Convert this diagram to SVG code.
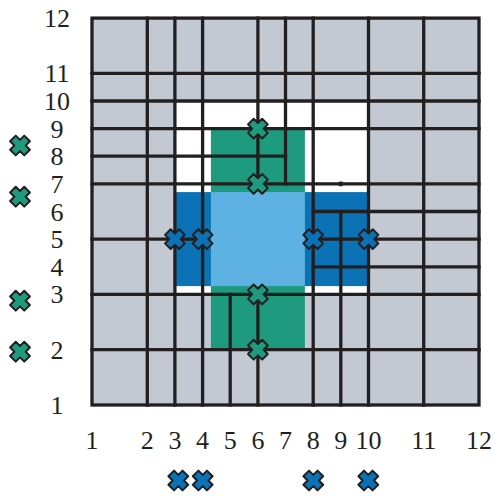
<svg xmlns="http://www.w3.org/2000/svg" xmlns:xlink="http://www.w3.org/1999/xlink" width="495" height="496" viewBox="0 0 495 496">
<style>
.ln{stroke:#231f20;stroke-width:3.3;fill:none;stroke-linecap:square}
.lbl{font-family:"Liberation Serif","DejaVu Serif",serif;font-size:26px;fill:#231f20;text-anchor:middle}
.mk{stroke:#231f20;stroke-width:2;stroke-linejoin:round}
</style>
<defs>
<polygon id="cross" points="-4,-10 4,-10 4,-4 10,-4 10,4 4,4 4,10 -4,10 -4,4 -10,4 -10,-4 -4,-4" transform="rotate(45)"/>
<g id="mg"><use xlink:href="#cross" href="#cross" class="mk" fill="#1e9b7f"/></g>
<g id="mb"><use xlink:href="#cross" href="#cross" class="mk" fill="#0a72b5"/></g>
</defs>
<rect width="495" height="496" fill="#ffffff"/>
<g id="regions">
<rect x="92" y="18.1" width="387" height="386.9" fill="#c2c9d2"/>
<rect x="174.9" y="101" width="193.6" height="193.4" fill="#ffffff"/>
<rect x="174.9" y="192.1" width="193.6" height="94" fill="#0a72b5"/>
<rect x="210.9" y="128.6" width="94" height="221.1" fill="#1e9b7f"/>
<rect x="210.9" y="192.1" width="94" height="94" fill="#5eb2e3"/>
</g>
<g id="connectors" class="ln">
<rect x="92" y="18.1" width="387" height="386.9"/>
<line x1="92" y1="73.4" x2="479" y2="73.4"/>
<line x1="92" y1="101" x2="479" y2="101"/>
<line x1="92" y1="128.6" x2="479" y2="128.6"/>
<line x1="92" y1="156.2" x2="285.5" y2="156.2"/>
<line x1="92" y1="183.9" x2="479" y2="183.9"/>
<line x1="313.2" y1="211.5" x2="479" y2="211.5"/>
<line x1="92" y1="239.1" x2="202.6" y2="239.1"/>
<line x1="313.2" y1="239.1" x2="479" y2="239.1"/>
<line x1="313.2" y1="266.8" x2="479" y2="266.8"/>
<line x1="92" y1="294.4" x2="479" y2="294.4"/>
<line x1="92" y1="349.7" x2="479" y2="349.7"/>
<line x1="147.3" y1="18.1" x2="147.3" y2="405"/>
<line x1="174.9" y1="18.1" x2="174.9" y2="405"/>
<line x1="202.6" y1="18.1" x2="202.6" y2="405"/>
<line x1="230.2" y1="294.4" x2="230.2" y2="405"/>
<line x1="257.9" y1="18.1" x2="257.9" y2="183.9"/>
<line x1="257.9" y1="294.4" x2="257.9" y2="405"/>
<line x1="285.5" y1="18.1" x2="285.5" y2="183.9"/>
<line x1="313.2" y1="18.1" x2="313.2" y2="405"/>
<line x1="340.8" y1="211.5" x2="340.8" y2="405"/>
<line x1="368.5" y1="18.1" x2="368.5" y2="405"/>
<line x1="423.7" y1="18.1" x2="423.7" y2="405"/>
<rect x="338.8" y="181.6" width="4" height="4.6" fill="#231f20" stroke="none"/>
</g>
<g id="grid-markers">
<use xlink:href="#mg" href="#mg" x="257.9" y="128.6"/>
<use xlink:href="#mg" href="#mg" x="257.9" y="183.9"/>
<use xlink:href="#mg" href="#mg" x="257.9" y="294.4"/>
<use xlink:href="#mg" href="#mg" x="257.9" y="349.7"/>
<use xlink:href="#mb" href="#mb" x="174.9" y="239.1"/>
<use xlink:href="#mb" href="#mb" x="202.6" y="239.1"/>
<use xlink:href="#mb" href="#mb" x="313.2" y="239.1"/>
<use xlink:href="#mb" href="#mb" x="368.5" y="239.1"/>
</g>
<g id="side-markers">
<use xlink:href="#mg" href="#mg" x="20" y="145.5"/>
<use xlink:href="#mg" href="#mg" x="20" y="196.7"/>
<use xlink:href="#mg" href="#mg" x="20" y="300.7"/>
<use xlink:href="#mg" href="#mg" x="20" y="351.7"/>
<use xlink:href="#mb" href="#mb" x="178.3" y="480.5"/>
<use xlink:href="#mb" href="#mb" x="202.7" y="480.5"/>
<use xlink:href="#mb" href="#mb" x="313.3" y="480.5"/>
<use xlink:href="#mb" href="#mb" x="368.3" y="480.5"/>
</g>
<g id="x-labels" class="lbl">
<text x="92" y="449">1</text>
<text x="147.3" y="449">2</text>
<text x="174.9" y="449">3</text>
<text x="202.6" y="449">4</text>
<text x="230.2" y="449">5</text>
<text x="257.9" y="449">6</text>
<text x="285.5" y="449">7</text>
<text x="313.2" y="449">8</text>
<text x="340.8" y="449">9</text>
<text x="368.5" y="449">10</text>
<text x="423.7" y="449">11</text>
<text x="479" y="449">12</text>
</g>
<g id="y-labels" class="lbl">
<text x="57" y="414">1</text>
<text x="57" y="358.7">2</text>
<text x="57" y="303.4">3</text>
<text x="57" y="275.8">4</text>
<text x="57" y="248.1">5</text>
<text x="57" y="220.5">6</text>
<text x="57" y="192.9">7</text>
<text x="57" y="165.2">8</text>
<text x="57" y="137.6">9</text>
<text x="57" y="110">10</text>
<text x="57" y="82.4">11</text>
<text x="57" y="27.1">12</text>
</g>
</svg>
